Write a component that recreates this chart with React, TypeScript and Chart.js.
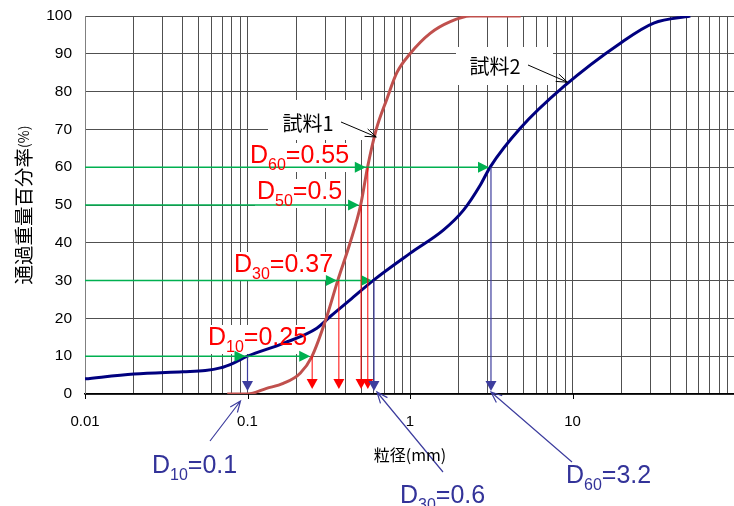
import React, { useEffect, useRef } from 'react';
import { Chart, registerables } from 'chart.js';

Chart.register(...registerables);

// ---------- data ----------
const SAMPLE1_SIZE = [0.075, 0.1, 0.131, 0.166, 0.211, 0.249, 0.305, 0.359, 0.428, 0.497, 0.548, 0.62, 0.72, 0.83, 1.0, 1.33, 1.77, 2.35, 4.8];
const SAMPLE1_PASS = [0, 0, 1.5, 2.8, 5.5, 9.9, 20, 30, 40, 50, 60, 70, 78, 85, 90, 95.4, 98.5, 100, 100];

const SAMPLE2_SIZE = [0.01, 0.02, 0.04, 0.055, 0.068, 0.082, 0.1, 0.166, 0.267, 0.323, 0.428, 0.6, 1.0, 1.61, 2.14, 2.71, 3.12, 4.77, 8.81, 19.7, 31.6, 53.1];
const SAMPLE2_PASS = [4.0, 5.3, 5.9, 6.2, 6.9, 8.2, 10, 13.4, 17.4, 20.5, 24.9, 30.2, 37.2, 43.4, 48.7, 55.3, 60.1, 70.3, 81.3, 92.8, 98.1, 100];

const X_MIN = 0.01;
const X_MAX = 100;
const X_DECADES = [0.01, 0.1, 1, 10, 100];
const X_TICK_LABELS = ['0.01', '0.1', '1', '10', ''];
const Y_MIN = 0;
const Y_MAX = 100;
const Y_STEP = 10;

const S1_D_LEVELS = [10, 30, 50, 60];
const S1_D_SIZES = [0.25, 0.365, 0.5, 0.55];
const S1_D_SUBS = ['10', '30', '50', '60'];
const S1_D_TEXTS = ['=0.25', '=0.37', '=0.5', '=0.55'];

const S2_D_LEVELS = [10, 30, 60];
const S2_D_SIZES = [0.1, 0.6, 3.15];
const S2_D_SUBS = ['10', '30', '60'];
const S2_D_TEXTS = ['=0.1', '=0.6', '=3.2'];

const SAMPLE1_NAME = '試料1';
const SAMPLE2_NAME = '試料2';
const Y_TITLE = '通過重量百分率';
const Y_TITLE_UNIT = '(%)';
const X_TITLE = '粒径(mm)';

// ---------- styles / positions ----------
const LATIN = 'Arial, "Liberation Sans", sans-serif';
const JP = '"Noto Sans CJK JP", "Noto Sans", sans-serif';
const RED_CURVE = '#C0504D';
const NAVY = '#00007F';
const GREEN = '#00B050';
const RED = '#FF0000';
const BLUE_ARROW = '#3D3D9E';
const BLUE_TEXT = '#333399';

const RED_LABEL_POS = [[208, 345], [234, 272], [257, 199], [250, 163]];
const BLUE_LABEL_POS = [[152, 473], [400, 503], [566, 483]];
const BLUE_LEADER_FROM = [[210, 441], [443, 472], [572, 462]];
const BLUE_LEADER_TIP_OFFSET = [[-7, 7], [3, -2], [0, -2]];

function dMetrics(ctx: CanvasRenderingContext2D, sub: string, rest: string) {
  ctx.font = `25px ${LATIN}`;
  const wD = ctx.measureText('D').width;
  const wR = ctx.measureText(rest).width;
  ctx.font = `16px ${LATIN}`;
  const wS = ctx.measureText(sub).width;
  return { wD, wS, wR, total: wD + wS + wR };
}

function drawDLabel(ctx: CanvasRenderingContext2D, x: number, base: number, sub: string, rest: string, color: string) {
  const m = dMetrics(ctx, sub, rest);
  ctx.fillStyle = color;
  ctx.textAlign = 'left';
  ctx.textBaseline = 'alphabetic';
  ctx.font = `25px ${LATIN}`;
  ctx.fillText('D', x, base);
  ctx.font = `16px ${LATIN}`;
  ctx.fillText(sub, x + m.wD, base + 7);
  ctx.font = `25px ${LATIN}`;
  ctx.fillText(rest, x + m.wD + m.wS, base);
}

function filledHead(ctx: CanvasRenderingContext2D, tx: number, ty: number, ux: number, uy: number, len: number, half: number, color: string) {
  const bx = tx - ux * len;
  const by = ty - uy * len;
  const px = -uy;
  const py = ux;
  ctx.beginPath();
  ctx.moveTo(tx, ty);
  ctx.lineTo(bx + px * half, by + py * half);
  ctx.lineTo(bx - px * half, by - py * half);
  ctx.closePath();
  ctx.fillStyle = color;
  ctx.fill();
}

function openArrow(ctx: CanvasRenderingContext2D, fx: number, fy: number, tx: number, ty: number, len: number, half: number, color: string, width: number) {
  const dx = tx - fx;
  const dy = ty - fy;
  const l = Math.hypot(dx, dy);
  const ux = dx / l;
  const uy = dy / l;
  const bx = tx - ux * len;
  const by = ty - uy * len;
  const px = -uy;
  const py = ux;
  ctx.strokeStyle = color;
  ctx.lineWidth = width;
  ctx.beginPath();
  ctx.moveTo(fx, fy);
  ctx.lineTo(tx, ty);
  ctx.moveTo(bx + px * half, by + py * half);
  ctx.lineTo(tx, ty);
  ctx.lineTo(bx - px * half, by - py * half);
  ctx.stroke();
}

const annotationPlugin = {
  id: 'gradationAnnotations',
  beforeDatasetsDraw(chart: any) {
    const ctx: CanvasRenderingContext2D = chart.ctx;
    ctx.save();
    ctx.fillStyle = '#ffffff';
    ctx.fillRect(268, 100, 102, 40);
    ctx.fillRect(456, 47, 97, 38);
    S1_D_SUBS.forEach((sub, i) => {
      const m = dMetrics(ctx, sub, S1_D_TEXTS[i]);
      const [x, b] = RED_LABEL_POS[i];
      ctx.fillStyle = '#ffffff';
      ctx.fillRect(x - 2, b - 20, m.total + 4, 29);
    });
    ctx.restore();
  },
  afterDatasetsDraw(chart: any) {
    const ctx: CanvasRenderingContext2D = chart.ctx;
    const xs = chart.scales.x;
    const ys = chart.scales.y;
    const area = chart.chartArea;
    ctx.save();

    // green horizontal arrows
    const levels = Array.from(new Set([...S1_D_LEVELS, ...S2_D_LEVELS])).sort((a, b) => a - b);
    levels.forEach((lv) => {
      const sizes: number[] = [];
      S1_D_LEVELS.forEach((l, i) => { if (l === lv) sizes.push(S1_D_SIZES[i]); });
      S2_D_LEVELS.forEach((l, i) => { if (l === lv) sizes.push(S2_D_SIZES[i]); });
      const y = ys.getPixelForValue(lv);
      const tips = sizes.map((s) => xs.getPixelForValue(s) - 2);
      const maxTip = Math.max(...tips);
      ctx.strokeStyle = GREEN;
      ctx.lineWidth = 1.5;
      ctx.beginPath();
      ctx.moveTo(area.left, y);
      ctx.lineTo(maxTip - 4, y);
      ctx.stroke();
      tips.forEach((t) => filledHead(ctx, t, y, 1, 0, 11, 5.5, GREEN));
    });

    // red vertical arrows (sample 1)
    S1_D_SIZES.forEach((s, i) => {
      const x = xs.getPixelForValue(s);
      const y0 = ys.getPixelForValue(S1_D_LEVELS[i]);
      const tip = area.bottom - 5;
      ctx.strokeStyle = RED;
      ctx.lineWidth = 1;
      ctx.beginPath();
      ctx.moveTo(x, y0);
      ctx.lineTo(x, tip - 6);
      ctx.stroke();
      filledHead(ctx, x, tip, 0, 1, 10, 5.5, RED);
    });

    // blue vertical arrows (sample 2)
    S2_D_SIZES.forEach((s, i) => {
      const x = xs.getPixelForValue(s);
      const y0 = ys.getPixelForValue(S2_D_LEVELS[i]);
      const tip = area.bottom - 3;
      ctx.strokeStyle = BLUE_ARROW;
      ctx.lineWidth = 1.2;
      ctx.beginPath();
      ctx.moveTo(x, y0);
      ctx.lineTo(x, tip - 6);
      ctx.stroke();
      filledHead(ctx, x, tip, 0, 1, 10, 5.5, BLUE_ARROW);
    });

    // red labels
    S1_D_SUBS.forEach((sub, i) => {
      const [x, b] = RED_LABEL_POS[i];
      drawDLabel(ctx, x, b, sub, S1_D_TEXTS[i], RED);
    });

    // blue labels with leader arrows
    S2_D_SUBS.forEach((sub, i) => {
      const [x, b] = BLUE_LABEL_POS[i];
      drawDLabel(ctx, x, b, sub, S2_D_TEXTS[i], BLUE_TEXT);
      const [fx, fy] = BLUE_LEADER_FROM[i];
      const tx = xs.getPixelForValue(S2_D_SIZES[i]) + BLUE_LEADER_TIP_OFFSET[i][0];
      const ty = area.bottom + BLUE_LEADER_TIP_OFFSET[i][1];
      openArrow(ctx, fx, fy, tx, ty, 11, 4.5, BLUE_ARROW, 1.2);
    });

    // sample names
    ctx.fillStyle = '#000';
    ctx.textAlign = 'center';
    ctx.textBaseline = 'middle';
    ctx.font = `20px ${JP}`;
    ctx.fillText(SAMPLE1_NAME, 308, 123);
    ctx.fillText(SAMPLE2_NAME, 495, 66);
    openArrow(ctx, 341, 122, xs.getPixelForValue(0.62), ys.getPixelForValue(68), 11, 4, '#000', 1);
    openArrow(ctx, 528, 65, xs.getPixelForValue(9.3), ys.getPixelForValue(82.5), 11, 4, '#000', 1);

    ctx.restore();
  },
  afterDraw(chart: any) {
    const ctx: CanvasRenderingContext2D = chart.ctx;
    const xs = chart.scales.x;
    const area = chart.chartArea;
    ctx.save();
    ctx.strokeStyle = '#000';
    ctx.lineWidth = 1;
    X_DECADES.forEach((d) => {
      const x = Math.round(xs.getPixelForValue(d)) + 0.5;
      ctx.beginPath();
      ctx.moveTo(x, area.bottom);
      ctx.lineTo(x, area.bottom + 5);
      ctx.stroke();
    });
    // y title (rotated)
    ctx.fillStyle = '#000';
    ctx.textBaseline = 'middle';
    ctx.textAlign = 'left';
    ctx.font = `19.5px ${JP}`;
    const wMain = ctx.measureText(Y_TITLE).width;
    ctx.font = `14px ${JP}`;
    const wUnit = ctx.measureText(Y_TITLE_UNIT).width;
    const total = wMain + wUnit;
    ctx.translate(24, 205);
    ctx.rotate(-Math.PI / 2);
    ctx.font = `19.5px ${JP}`;
    ctx.fillText(Y_TITLE, -total / 2, 0);
    ctx.font = `14px ${JP}`;
    ctx.fillText(Y_TITLE_UNIT, -total / 2 + wMain, 0);
    ctx.setTransform(1, 0, 0, 1, 0, 0);
    // x title
    ctx.textAlign = 'center';
    ctx.font = `16px ${JP}`;
    ctx.fillText(X_TITLE, 410, 455);
    ctx.restore();
  },
};

function buildGridValues() {
  const vals: number[] = [];
  for (let i = 0; i < X_DECADES.length - 1; i++) {
    for (let k = 1; k < 10; k++) vals.push(+(X_DECADES[i] * k).toPrecision(6));
  }
  vals.push(X_DECADES[X_DECADES.length - 1]);
  return vals;
}

export default function App() {
  const ref = useRef<HTMLCanvasElement>(null);
  useEffect(() => {
    const canvas = ref.current;
    if (!canvas) return;
    const gridVals = buildGridValues();
    const chart = new Chart(canvas, {
      type: 'line',
      data: {
        datasets: [
          {
            label: SAMPLE1_NAME,
            data: SAMPLE1_SIZE.map((x, i) => ({ x, y: SAMPLE1_PASS[i] })),
            borderColor: RED_CURVE,
            borderWidth: 3,
            pointRadius: 0,
            cubicInterpolationMode: 'monotone',
            fill: false,
          },
          {
            label: SAMPLE2_NAME,
            data: SAMPLE2_SIZE.map((x, i) => ({ x, y: SAMPLE2_PASS[i] })),
            borderColor: NAVY,
            borderWidth: 3,
            pointRadius: 0,
            cubicInterpolationMode: 'monotone',
            fill: false,
          },
        ],
      },
      options: {
        animation: false,
        responsive: false,
        maintainAspectRatio: false,
        layout: { padding: { top: 16, right: 5, left: 0, bottom: 0 } },
        plugins: { legend: { display: false }, tooltip: { enabled: false } },
        scales: {
          x: {
            type: 'logarithmic',
            min: X_MIN,
            max: X_MAX,
            afterBuildTicks: (s: any) => {
              s.ticks = gridVals.map((v) => ({ value: v, major: X_DECADES.includes(v) }));
            },
            afterFit: (s: any) => {
              s.height = 112;
              s.paddingLeft = 0;
              s.paddingRight = 0;
            },
            grid: { color: '#505050', lineWidth: 1, drawTicks: false },
            border: { color: '#000000', width: 1.5 },
            ticks: {
              autoSkip: false,
              maxRotation: 0,
              minRotation: 0,
              padding: 19,
              color: '#000',
              font: { family: LATIN, size: 15 },
              callback: (v: any) => {
                const idx = X_DECADES.findIndex((d) => Math.abs(d - Number(v)) / d < 1e-6);
                return idx >= 0 ? X_TICK_LABELS[idx] : '';
              },
            },
          },
          y: {
            min: Y_MIN,
            max: Y_MAX,
            afterFit: (s: any) => {
              s.width = 85;
              s.paddingTop = 0;
              s.paddingBottom = 0;
            },
            grid: { color: '#505050', lineWidth: 1, drawTicks: false },
            border: { color: '#808080', width: 1 },
            ticks: {
              stepSize: Y_STEP,
              padding: 13,
              color: '#000',
              font: { family: LATIN, size: 15.5 },
            },
          },
        },
      },
      plugins: [annotationPlugin],
    } as any);
    return () => chart.destroy();
  }, []);
  return (
    <div style={{ position: 'fixed', left: 0, top: 0, width: 734, height: 506, overflow: 'hidden', background: '#fff' }}>
      <canvas ref={ref} width={740} height={506} style={{ display: 'block', width: 740, height: 506 }} />
    </div>
  );
}
